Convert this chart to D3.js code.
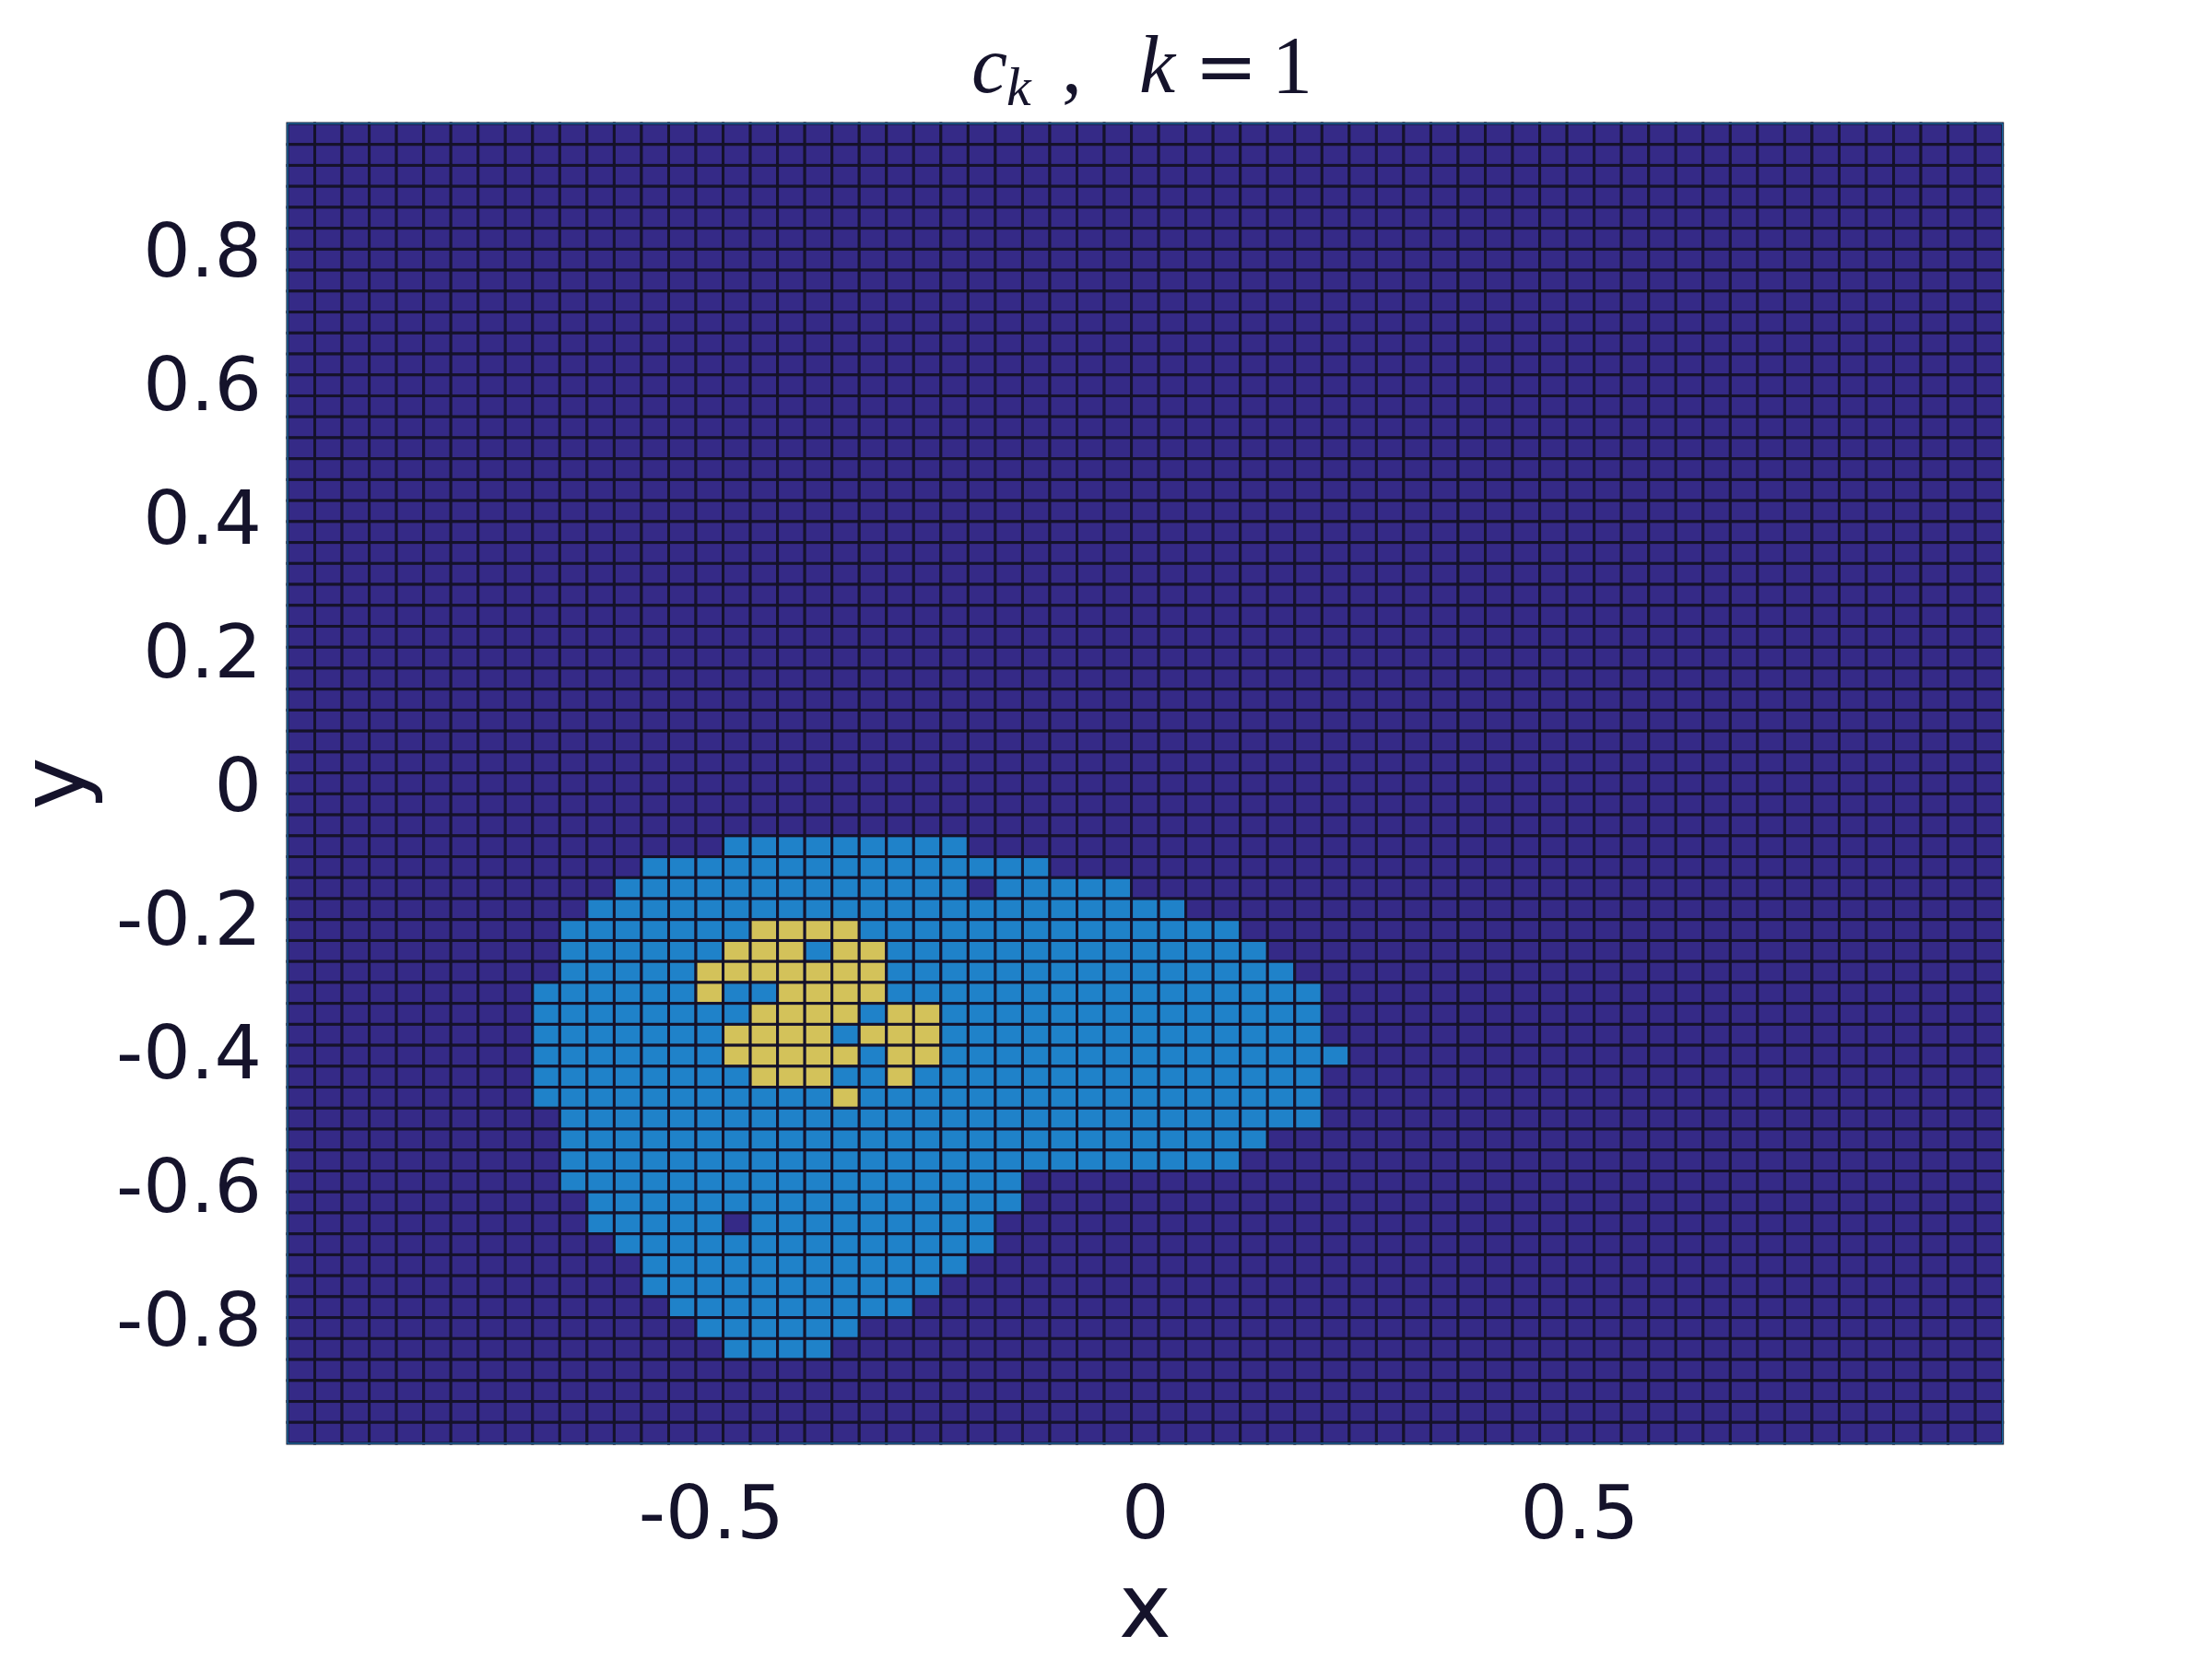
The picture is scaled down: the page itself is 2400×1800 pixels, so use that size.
<!DOCTYPE html>
<html><head><meta charset="utf-8">
<script src="https://cdn.jsdelivr.net/npm/d3@7"></script>
<style>html,body{margin:0;padding:0;background:#fff}</style>
</head><body>
<svg id="chart" width="2400" height="1800" xmlns="http://www.w3.org/2000/svg"></svg>
<script>
// Cell classes: 0 = background, 1 = light blue, 2 = yellow
// (rows from top to bottom, columns from left to right, spaces only for readability)
const gridRows = [
"0000000000 0000000000 0000000000 0000000000 0000000000 0000000000 000", // 0
"0000000000 0000000000 0000000000 0000000000 0000000000 0000000000 000",
"0000000000 0000000000 0000000000 0000000000 0000000000 0000000000 000",
"0000000000 0000000000 0000000000 0000000000 0000000000 0000000000 000",
"0000000000 0000000000 0000000000 0000000000 0000000000 0000000000 000",
"0000000000 0000000000 0000000000 0000000000 0000000000 0000000000 000", // 5
"0000000000 0000000000 0000000000 0000000000 0000000000 0000000000 000",
"0000000000 0000000000 0000000000 0000000000 0000000000 0000000000 000",
"0000000000 0000000000 0000000000 0000000000 0000000000 0000000000 000",
"0000000000 0000000000 0000000000 0000000000 0000000000 0000000000 000",
"0000000000 0000000000 0000000000 0000000000 0000000000 0000000000 000", // 10
"0000000000 0000000000 0000000000 0000000000 0000000000 0000000000 000",
"0000000000 0000000000 0000000000 0000000000 0000000000 0000000000 000",
"0000000000 0000000000 0000000000 0000000000 0000000000 0000000000 000",
"0000000000 0000000000 0000000000 0000000000 0000000000 0000000000 000",
"0000000000 0000000000 0000000000 0000000000 0000000000 0000000000 000", // 15
"0000000000 0000000000 0000000000 0000000000 0000000000 0000000000 000",
"0000000000 0000000000 0000000000 0000000000 0000000000 0000000000 000",
"0000000000 0000000000 0000000000 0000000000 0000000000 0000000000 000",
"0000000000 0000000000 0000000000 0000000000 0000000000 0000000000 000",
"0000000000 0000000000 0000000000 0000000000 0000000000 0000000000 000", // 20
"0000000000 0000000000 0000000000 0000000000 0000000000 0000000000 000",
"0000000000 0000000000 0000000000 0000000000 0000000000 0000000000 000",
"0000000000 0000000000 0000000000 0000000000 0000000000 0000000000 000",
"0000000000 0000000000 0000000000 0000000000 0000000000 0000000000 000",
"0000000000 0000000000 0000000000 0000000000 0000000000 0000000000 000", // 25
"0000000000 0000000000 0000000000 0000000000 0000000000 0000000000 000",
"0000000000 0000000000 0000000000 0000000000 0000000000 0000000000 000",
"0000000000 0000000000 0000000000 0000000000 0000000000 0000000000 000",
"0000000000 0000000000 0000000000 0000000000 0000000000 0000000000 000",
"0000000000 0000000000 0000000000 0000000000 0000000000 0000000000 000", // 30
"0000000000 0000000000 0000000000 0000000000 0000000000 0000000000 000",
"0000000000 0000000000 0000000000 0000000000 0000000000 0000000000 000",
"0000000000 0000000000 0000000000 0000000000 0000000000 0000000000 000",
"0000000000 0000001111 1111100000 0000000000 0000000000 0000000000 000", // 34
"0000000000 0001111111 1111111100 0000000000 0000000000 0000000000 000", // 35
"0000000000 0011111111 1111101111 1000000000 0000000000 0000000000 000", // 36
"0000000000 0111111111 1111111111 1110000000 0000000000 0000000000 000", // 37
"0000000000 1111111222 2111111111 1111100000 0000000000 0000000000 000", // 38
"0000000000 1111112221 2211111111 1111110000 0000000000 0000000000 000", // 39
"0000000000 1111122222 2211111111 1111111000 0000000000 0000000000 000", // 40
"0000000001 1111121122 2211111111 1111111100 0000000000 0000000000 000", // 41
"0000000001 1111111222 2122111111 1111111100 0000000000 0000000000 000", // 42
"0000000001 1111112222 1222111111 1111111100 0000000000 0000000000 000", // 43
"0000000001 1111112222 2122111111 1111111110 0000000000 0000000000 000", // 44
"0000000001 1111111222 1121111111 1111111100 0000000000 0000000000 000", // 45
"0000000001 1111111111 2111111111 1111111100 0000000000 0000000000 000", // 46
"0000000000 1111111111 1111111111 1111111100 0000000000 0000000000 000", // 47
"0000000000 1111111111 1111111111 1111110000 0000000000 0000000000 000", // 48
"0000000000 1111111111 1111111111 1111100000 0000000000 0000000000 000", // 49
"0000000000 1111111111 1111111000 0000000000 0000000000 0000000000 000", // 50
"0000000000 0111111111 1111111000 0000000000 0000000000 0000000000 000", // 51
"0000000000 0111110111 1111110000 0000000000 0000000000 0000000000 000", // 52
"0000000000 0011111111 1111110000 0000000000 0000000000 0000000000 000", // 53
"0000000000 0001111111 1111100000 0000000000 0000000000 0000000000 000", // 54
"0000000000 0001111111 1111000000 0000000000 0000000000 0000000000 000", // 55
"0000000000 0000111111 1110000000 0000000000 0000000000 0000000000 000", // 56
"0000000000 0000011111 1000000000 0000000000 0000000000 0000000000 000", // 57
"0000000000 0000001111 0000000000 0000000000 0000000000 0000000000 000", // 58
"0000000000 0000000000 0000000000 0000000000 0000000000 0000000000 000",
"0000000000 0000000000 0000000000 0000000000 0000000000 0000000000 000", // 60
"0000000000 0000000000 0000000000 0000000000 0000000000 0000000000 000",
"0000000000 0000000000 0000000000 0000000000 0000000000 0000000000 000"
];
const gridExtent = [-0.9875, 0.9875];
const classValues = [0, 1, 2];
const classColors = ["#352a87", "#1f82c9", "#d3c25a"];
const xTicks = [-0.5, 0, 0.5];
const yTicks = [-0.8, -0.6, -0.4, -0.2, 0, 0.2, 0.4, 0.6, 0.8];
const xLabel = "x";
const yLabel = "y";

// ---- build cells ----
const rows = gridRows.map(r => r.replace(/ /g, "").split("").map(Number));
const nRows = rows.length, nCols = rows[0].length;
const cellW = (gridExtent[1] - gridExtent[0]) / nCols;
const cellH = (gridExtent[1] - gridExtent[0]) / nRows;
const cells = [];
rows.forEach((row, r) => row.forEach((v, c) => {
  cells.push({x0: gridExtent[0] + c * cellW, x1: gridExtent[0] + (c + 1) * cellW,
              y1: gridExtent[1] - r * cellH, y0: gridExtent[1] - (r + 1) * cellH, v});
}));

const plot = {left: 312, right: 2172.7, top: 134, bottom: 1566};
const x = d3.scaleLinear().domain(gridExtent).range([plot.left, plot.right]);
const y = d3.scaleLinear().domain(gridExtent).range([plot.bottom, plot.top]);
const color = d3.scaleOrdinal().domain(classValues).range(classColors);

const svg = d3.select("#chart");
svg.append("rect").attr("width", 2400).attr("height", 1800).attr("fill", "#ffffff");

const textColor = "#15132b";

svg.append("g").selectAll("rect").data(cells).join("rect")
  .attr("x", d => x(d.x0)).attr("y", d => y(d.y1))
  .attr("width", d => x(d.x1) - x(d.x0)).attr("height", d => y(d.y0) - y(d.y1))
  .attr("fill", d => color(d.v))
  .attr("stroke", "#15122a").attr("stroke-width", 3);

// thin axes frame
svg.append("rect")
  .attr("x", plot.left).attr("y", plot.top)
  .attr("width", plot.right - plot.left).attr("height", plot.bottom - plot.top)
  .attr("fill", "none").attr("stroke", "#1f77b4").attr("stroke-width", 1.2);

const fmt = v => String(v);
const gx = svg.append("g").attr("transform", `translate(0,${plot.bottom})`)
  .call(d3.axisBottom(x).tickValues(xTicks).tickFormat(fmt).tickSize(0).tickPadding(45));
const gy = svg.append("g").attr("transform", `translate(${plot.left},0)`)
  .call(d3.axisLeft(y).tickValues(yTicks).tickFormat(fmt).tickSize(0).tickPadding(28));
[gx, gy].forEach(g => {
  g.select(".domain").remove();
  g.selectAll("text").attr("font-family", "DejaVu Sans").attr("font-size", 81)
    .attr("fill", textColor);
});
gy.selectAll("text").attr("dy", "0.36em");

svg.append("text").attr("x", x(0)).attr("y", 1776)
  .attr("text-anchor", "middle").attr("font-family", "DejaVu Sans")
  .attr("font-size", 96).attr("fill", textColor).text(xLabel);
svg.append("text").attr("transform", `translate(91,${y(0)}) rotate(-90)`)
  .attr("text-anchor", "middle").attr("font-family", "DejaVu Sans")
  .attr("font-size", 96).attr("fill", textColor).text(yLabel);

// title: c_k ,  k =1
const title = svg.append("text").attr("y", 100).attr("fill", textColor)
  .attr("font-family", "Liberation Serif").attr("font-size", 88);
title.append("tspan").attr("x", 1054).attr("font-style", "italic").text("c");
title.append("tspan").attr("x", 1092).attr("dy", 14).attr("font-size", 60).attr("font-style", "italic").text("k");
title.append("tspan").attr("x", 1152).attr("dy", -14).text(",");
title.append("tspan").attr("x", 1236).attr("font-style", "italic").text("k");
title.append("tspan").attr("x", 1296).attr("font-family", "DejaVu Serif").attr("font-size", 82).text("=");
title.append("tspan").attr("x", 1380).text("1");
</script>
</body></html>
